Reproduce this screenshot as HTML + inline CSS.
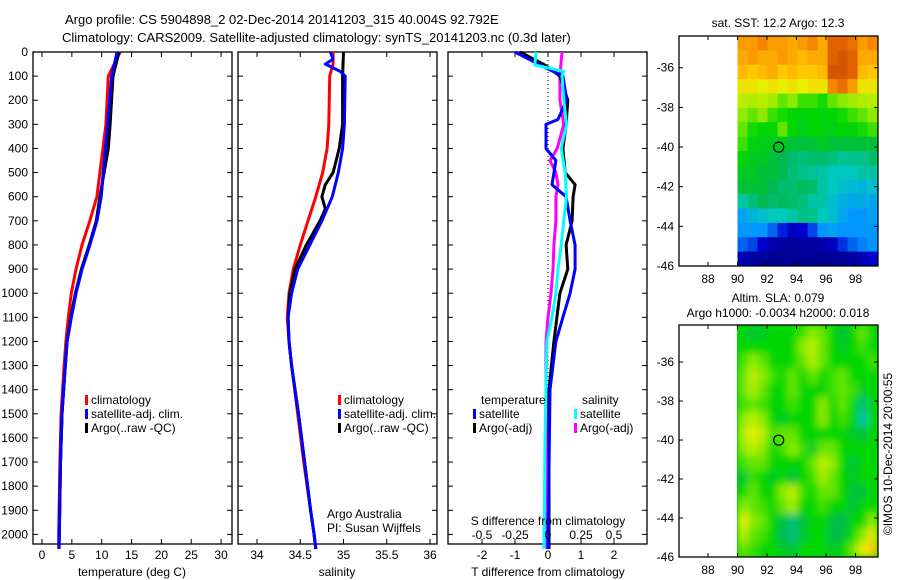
<!DOCTYPE html>
<html><head><meta charset="utf-8"><style>
body{margin:0;background:#fff;}
svg{display:block;font-family:"Liberation Sans",sans-serif;font-size:12px;}
</style></head><body>
<svg id="c" width="900" height="580" xmlns="http://www.w3.org/2000/svg">
<defs>
<filter id="bl" x="0" y="0" width="1" height="1"><feGaussianBlur stdDeviation="4"/></filter>
<clipPath id="clipSla"><rect x="737" y="325" width="141" height="232"/></clipPath>
</defs>
<text x="65" y="24" font-size="13">Argo profile: CS 5904898_2 02-Dec-2014 20141203_315 40.004S 92.792E</text>
<text x="62" y="42" font-size="13">Climatology: CARS2009. Satellite-adjusted climatology: synTS_20141203.nc (0.3d later)</text>
</svg>
<script>
const NS="http://www.w3.org/2000/svg";
const svg=document.getElementById('c');
// ---------- data ----------
const depthTicks=[0,100,200,300,400,500,600,700,800,900,1000,1100,1200,1300,1400,1500,1600,1700,1800,1900,2000];
const tempTicks=[0,5,10,15,20,25,30];
const salTicks=[34,34.5,35,35.5,36];
const salTickLabels=["34","34.5","35","35.5","36"];
const dTTicks=[-2,-1,0,1,2];
const dSTicks=[-0.5,-0.25,0,0.25,0.5];
const dSTickLabels=["-0.5","-0.25","0","0.25","0.5"];
const lonTicks=[88,90,92,94,96,98];
const latTicks=[-36,-38,-40,-42,-44,-46];

const tClimDepth=[0,100,300,600,700,800,900,1000,1100,1200,1300,1500,1700,2000,2060];
const tClim=[13.1,11.1,10.7,9.2,8.0,6.7,5.7,4.9,4.4,4.0,3.7,3.2,3.0,2.8,2.8];
const tSatDepth=[0,100,300,600,700,800,900,1000,1100,1200,1300,1500,1700,2000,2060];
const tSat=[12.6,11.7,11.0,9.9,9.2,8.0,6.7,5.7,4.9,4.2,3.9,3.35,3.1,2.9,2.85];
const tArgoDepth=[0,100,300,400,500,600,700,800,900,1000,1100,1200,1300,1500,1700,2000,2060];
const tArgo=[12.9,11.9,11.4,11.1,10.4,9.7,9.1,7.9,6.6,5.6,4.8,4.2,3.9,3.35,3.1,2.9,2.85];

const sClimDepth=[0,50,100,300,400,500,600,700,800,900,1000,1100,1200,1300,1500,1700,1900,2000,2060];
const sClim=[34.88,34.88,34.84,34.83,34.81,34.76,34.68,34.59,34.5,34.42,34.37,34.35,34.37,34.4,34.47,34.54,34.62,34.66,34.68];
const sSatDepth=[0,30,50,60,80,100,300,400,500,600,700,800,900,1000,1100,1200,1300,1500,1700,1900,2000,2060];
const sSat=[34.85,34.88,34.79,34.85,34.96,35.02,35.01,34.99,34.94,34.87,34.75,34.61,34.47,34.4,34.36,34.37,34.4,34.48,34.55,34.62,34.66,34.68];
const sArgoDepth=[0,100,300,400,500,550,600,650,700,800,900,1000,1100,1200,1300,1500,1700,1900,2000,2060];
const sArgo=[35.0,34.99,34.99,34.95,34.88,34.79,34.75,34.79,34.73,34.57,34.44,34.38,34.36,34.37,34.4,34.48,34.55,34.62,34.66,34.68];

const dTSatDepth=[0,54,100,200,280,300,400,450,550,600,700,800,900,1000,1100,1200,1400,2060];
const dTSat=[-1.0,-0.24,0.45,0.57,0.3,-0.06,-0.06,0.24,0.12,0.55,0.67,0.82,0.82,0.67,0.45,0.24,0.06,0.0];
const dTArgoDepth=[0,54,100,200,300,400,500,550,600,700,800,900,1000,1100,1200,1400,2060];
const dTArgo=[-0.85,-0.1,0.36,0.6,0.55,0.45,0.52,0.82,0.76,0.73,0.55,0.6,0.36,0.27,0.18,0.03,0.03];
const dSSatDepth=[0,54,80,100,200,300,400,500,600,700,800,900,1000,1100,1200,1600,2060];
const dSSat=[-0.09,-0.1,0.12,0.106,0.12,0.14,0.1,0.13,0.14,0.12,0.1,0.076,0.06,0.03,-0.008,-0.023,-0.03];
const dSArgoDepth=[0,100,200,300,400,450,500,550,600,700,800,900,1000,1100,1200,1500,2060];
const dSArgo=[0.106,0.09,0.09,0.12,0.07,0.015,0.06,0.076,0.06,0.06,0.045,0.038,0.023,0,-0.015,-0.015,-0.008];

const sstGrid=[
[.82,.82,.85,.82,.82,.8,.82,.85,.8,.9,.9,.88,.82,.85],
[.8,.82,.8,.8,.82,.8,.78,.8,.8,.9,.92,.9,.8,.8],
[.78,.76,.78,.8,.76,.78,.76,.76,.78,.92,.92,.9,.78,.76],
[.72,.72,.7,.72,.7,.72,.7,.72,.72,.85,.88,.82,.72,.72],
[.66,.65,.66,.64,.6,.62,.58,.58,.56,.6,.62,.64,.65,.66],
[.62,.6,.62,.58,.56,.55,.54,.55,.54,.55,.56,.58,.6,.62],
[.6,.56,.55,.55,.6,.55,.53,.55,.54,.53,.55,.54,.56,.58],
[.58,.54,.53,.52,.52,.5,.5,.5,.52,.5,.5,.5,.5,.5],
[.55,.52,.52,.5,.48,.46,.45,.46,.46,.45,.43,.44,.44,.46],
[.52,.52,.5,.5,.48,.45,.44,.43,.42,.4,.4,.4,.42,.42],
[.5,.5,.5,.48,.46,.46,.47,.46,.42,.4,.38,.37,.36,.38],
[.42,.45,.48,.46,.47,.46,.45,.42,.42,.38,.35,.33,.34,.33],
[.32,.36,.38,.4,.4,.42,.44,.44,.4,.38,.33,.3,.3,.32],
[.3,.3,.3,.25,.18,.12,.15,.22,.3,.32,.3,.3,.3,.3],
[.25,.22,.15,.08,.06,.05,.05,.06,.08,.12,.2,.25,.28,.3],
[.1,.07,.05,.04,.04,.04,.04,.04,.04,.04,.05,.07,.1,.15]];
const slaGrid=[
[.55,.5,.52,.55,.55,.55,.58,.62,.6,.55,.5,.55,.6,.55],
[.55,.55,.55,.55,.55,.55,.62,.66,.6,.55,.52,.55,.58,.55],
[.58,.62,.6,.55,.55,.55,.6,.65,.6,.55,.55,.55,.55,.58],
[.6,.66,.62,.58,.55,.6,.55,.6,.55,.58,.6,.55,.55,.55],
[.6,.65,.6,.55,.55,.6,.55,.55,.55,.58,.6,.58,.52,.55],
[.58,.6,.58,.55,.55,.58,.55,.55,.62,.55,.6,.55,.45,.55],
[.62,.66,.62,.55,.52,.55,.55,.55,.62,.55,.58,.55,.42,.55],
[.65,.7,.66,.58,.6,.6,.55,.55,.55,.55,.55,.52,.5,.55],
[.62,.66,.62,.55,.58,.62,.58,.52,.6,.6,.55,.55,.55,.55],
[.58,.6,.6,.55,.55,.55,.55,.6,.66,.62,.55,.5,.55,.55],
[.5,.58,.55,.52,.55,.5,.55,.58,.64,.6,.55,.52,.55,.55],
[.55,.6,.55,.55,.62,.66,.58,.55,.6,.6,.55,.5,.5,.55],
[.62,.6,.58,.55,.6,.64,.55,.55,.58,.55,.55,.5,.55,.55],
[.7,.62,.6,.55,.5,.45,.5,.55,.55,.5,.48,.55,.55,.62],
[.66,.6,.58,.55,.48,.45,.5,.55,.55,.48,.5,.55,.62,.72],
[.6,.58,.55,.55,.52,.5,.55,.55,.55,.52,.55,.6,.7,.76]];
const argoLon=92.792, argoLat=-40.004;

// ---------- helpers ----------
function el(tag,attrs,parent){const e=document.createElementNS(NS,tag);for(const k in attrs)e.setAttribute(k,attrs[k]);(parent||svg).appendChild(e);return e;}
function txt(x,y,s,anchor,parent,size){const t=el('text',{x:x,y:y,'text-anchor':anchor||'start','font-size':size||12},parent);t.textContent=s;return t;}
const Y0=52,Y1=544;
const yD=d=>Y0+d*0.2412;
const xT=t=>42+t*5.97;
const xS=s=>257+(s-34)*86.5;
const xDT=d=>548+d*33;
const xDS=s=>548+s*132;

function frame(x0,x1,name){const r=el('rect',{x:x0,y:Y0,width:x1-x0,height:Y1-Y0,fill:'none',stroke:'#000','stroke-width':1.3});
 depthTicks.forEach(d=>{const y=yD(d);el('line',{x1:x0,x2:x0+5,y1:y,y2:y,stroke:'#000'});el('line',{x1:x1,x2:x1-5,y1:y,y2:y,stroke:'#000'});});}
function xticks(vals,labels,fx,name){const g=el('g',{});
 vals.forEach((v,i)=>{const x=fx(v);el('line',{x1:x,x2:x,y1:Y0,y2:Y0+5,stroke:'#000'},g);el('line',{x1:x,x2:x,y1:Y1,y2:Y1-5,stroke:'#000'},g);txt(x,Y1+15,labels[i],'middle',g);});}
function line(ds,vs,fx,color,name){const p=ds.map((d,i)=>fx(vs[i]).toFixed(1)+','+yD(d).toFixed(1)).join(' ');const l=el('polyline',{points:p,fill:'none',stroke:color,'stroke-width':3,'stroke-linejoin':'round'});}
function legend(x,y,color,label,name){const g=el('g',{});el('rect',{x:x,y:y-9,width:3,height:10,fill:color},g);txt(x+6,y,label,'start',g);}

// ---------- panel 1 ----------
frame(33,232,'temperature-panel');
const yl=el('g',{});
depthTicks.forEach(d=>txt(28,yD(d)+4,String(d),'end',yl));
xticks(tempTicks,tempTicks.map(String),xT,'temperature-x-axis');
txt(132,576,'temperature (deg C)','middle');
line(tClimDepth,tClim,xT,'#f00','temp-climatology-line');
line(tSatDepth,tSat,xT,'#00f','temp-satellite-line');
line(tArgoDepth,tArgo,xT,'#000','temp-argo-line');
line(tSatDepth,tSat,xT,'#00f','temp-satellite-line-top');
legend(85,404,'#f00','climatology','legend-climatology');
legend(85,418,'#00f','satellite-adj. clim.','legend-satellite');
legend(85,432,'#000','Argo(..raw -QC)','legend-argo');

// ---------- panel 2 ----------
frame(238,437,'salinity-panel');
xticks(salTicks,salTickLabels,xS,'salinity-x-axis');
txt(337,576,'salinity','middle');
line(sClimDepth,sClim,xS,'#f00','sal-climatology-line');
line(sArgoDepth,sArgo,xS,'#000','sal-argo-line');
line(sSatDepth,sSat,xS,'#00f','sal-satellite-line');
legend(338,404,'#f00','climatology','legend-sal-climatology');
legend(338,418,'#00f','satellite-adj. clim.','legend-sal-satellite');
legend(338,432,'#000','Argo(..raw -QC)','legend-sal-argo');
txt(327,518,'Argo Australia');
txt(327,532,'PI: Susan Wijffels');

// ---------- panel 3 ----------
frame(448,647,'difference-panel');
el('line',{x1:548,x2:548,y1:Y0,y2:Y1,stroke:'#000','stroke-dasharray':'1,3'});
xticks(dTTicks,dTTicks.map(String),xDT,'t-diff-x-axis');
txt(548,576,'T difference from climatology','middle');
line(dSArgoDepth,dSArgo,xDS,'#f0f','sdiff-argo-line');
line(dTArgoDepth,dTArgo,xDT,'#000','tdiff-argo-line');
line(dTSatDepth,dTSat,xDT,'#00f','tdiff-satellite-line');
line(dSSatDepth,dSSat,xDS,'#0ff','sdiff-satellite-line');
txt(481,404,'temperature');
txt(582,404,'salinity');
legend(473,418,'#00f','satellite','legend-t-satellite');
legend(473,432,'#000','Argo(-adj)','legend-t-argo');
legend(574,418,'#0ff','satellite','legend-s-satellite');
legend(574,432,'#f0f','Argo(-adj)','legend-s-argo');
txt(548,525,'S difference from climatology','middle');
const sg=el('g',{});
dSTicks.forEach((v,i)=>txt(xDS(v),539,dSTickLabels[i],'middle',sg));

// ---------- maps ----------
const ramp=[[0,[0,0,130]],[0.15,[0,0,210]],[0.3,[0,150,255]],[0.4,[0,200,190]],[0.48,[0,185,80]],[0.55,[0,215,0]],[0.62,[140,235,0]],[0.7,[230,240,0]],[0.76,[255,200,0]],[0.84,[250,140,0]],[0.92,[215,85,0]],[1,[170,30,0]]];
function col(v){for(let i=1;i<ramp.length;i++){if(v<=ramp[i][0]){const a=ramp[i-1],b=ramp[i];const t=(v-a[0])/(b[0]-a[0]);return 'rgb('+a[1].map((c,j)=>Math.round(c+(b[1][j]-c)*t)).join(',')+')';}}return 'rgb(170,30,0)';}
function map(top,bot,topLat,grid,name,titles,smooth){
 const xL=lon=>708+(lon-88)*14.75;
 const yL=lat=>bot-(lat+46)*(bot-top)/(topLat+46);
 const g=el('g',{});
 let cg=g;
 if(smooth){const outer=el('g',{'clip-path':'url(#clipSla)'},g);el('rect',{x:737,y:top,width:141,height:bot-top,fill:col(0.55)},outer);cg=el('g',{filter:'url(#bl)'},outer);}
 const nr=grid.length,nc=grid[0].length,lon0=90,lon1=99.5,lat0=topLat,lat1=-46;
 grid.forEach((row,r)=>row.forEach((v,c)=>{
  const xa=xL(lon0+(lon1-lon0)*c/nc),xb=xL(lon0+(lon1-lon0)*(c+1)/nc);
  const ya=yL(lat0+(lat1-lat0)*r/nr),yb=yL(lat0+(lat1-lat0)*(r+1)/nr);
  const cell=el('rect',{x:xa,y:ya,width:xb-xa+0.5,height:yb-ya+0.5,fill:col(v)},cg);
  
  
 }));
 el('rect',{x:679,y:top,width:199,height:bot-top,fill:'none',stroke:'#000','stroke-width':1.3},g);
 lonTicks.forEach(l=>{const x=xL(l);el('line',{x1:x,x2:x,y1:top,y2:top+4,stroke:'#000'},g);el('line',{x1:x,x2:x,y1:bot,y2:bot-4,stroke:'#000'},g);txt(x,bot+17,String(l),'middle',g);});
 latTicks.forEach(l=>{const y=yL(l);el('line',{x1:679,x2:683,y1:y,y2:y,stroke:'#000'},g);el('line',{x1:878,x2:874,y1:y,y2:y,stroke:'#000'},g);txt(674,y+4,String(l),'end',g);});
 const m=el('circle',{cx:xL(argoLon),cy:yL(argoLat),r:5,fill:'none',stroke:'#000','stroke-width':1.2},g);
 
 titles.forEach((t,i)=>txt(778,t[1],t[0],'middle',g));
}
map(36,266,-34.4,sstGrid,'sst-map',[['sat. SST: 12.2 Argo: 12.3',27]],false);
map(325,557,-34.1,slaGrid,'sla-map',[['Altim. SLA: 0.079',302],['Argo h1000: -0.0034 h2000: 0.018',317]],true);
const cr=txt(0,0,'©IMOS 10-Dec-2014 20:00:55','middle');
cr.setAttribute('transform','translate(892,454) rotate(-90)');


</script>
</body></html>
